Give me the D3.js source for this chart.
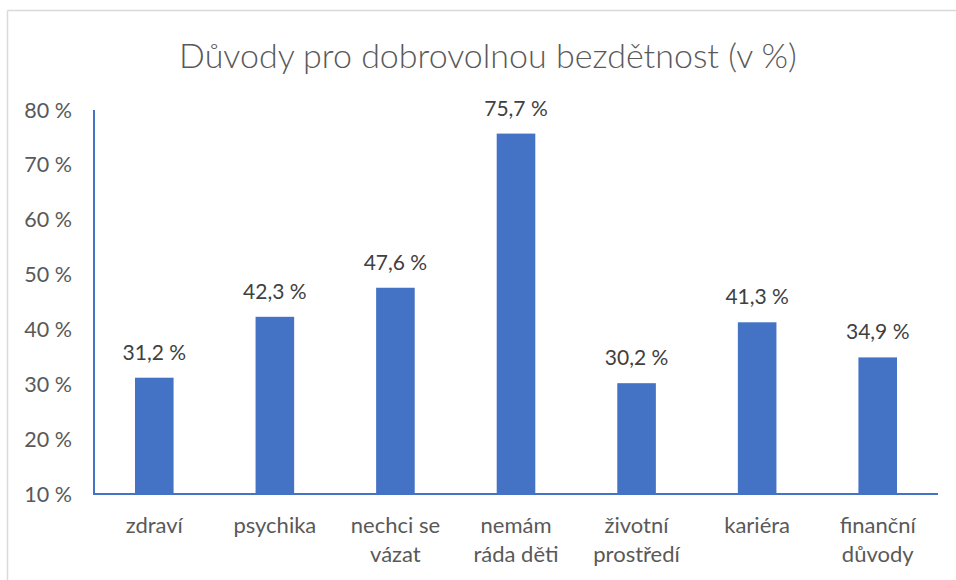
<!DOCTYPE html>
<html>
<head>
<meta charset="utf-8">
<script src="https://cdn.jsdelivr.net/npm/d3@7"></script>
<style>
  body { margin: 0; background: #fff; }
  text { font-family: Lato, "Open Sans", sans-serif; }
</style>
</head>
<body>
<div id="chart"></div>
<script>
const categories = [
  ['zdraví'],
  ['psychika'],
  ['nechci se', 'vázat'],
  ['nemám', 'ráda děti'],
  ['životní', 'prostředí'],
  ['kariéra'],
  ['finanční', 'důvody']
];
const values = [31.2, 42.3, 47.6, 75.7, 30.2, 41.3, 34.9];
const yTicks = [10, 20, 30, 40, 50, 60, 70, 80];

const width = 956, height = 580;
const margin = { top: 110, right: 18, bottom: 86, left: 94 };

const svg = d3.select('#chart').append('svg')
  .attr('width', width).attr('height', height);

svg.append('rect').attr('width', width).attr('height', height).attr('fill', '#fff');

// chart border (only top and left visible)
svg.append('line').attr('x1', 7.5).attr('x2', width).attr('y1', 10.5).attr('y2', 10.5)
  .attr('stroke', '#d9d9d9').attr('stroke-width', 1.5);
svg.append('line').attr('x1', 7.5).attr('x2', 7.5).attr('y1', 10.5).attr('y2', height)
  .attr('stroke', '#d9d9d9').attr('stroke-width', 1.5);

svg.append('text')
  .attr('x', 488).attr('y', 68)
  .attr('text-anchor', 'middle')
  .style('font-size', '34px')
  .style('font-weight', 300)
  .style('fill', '#595959')
  .text('Důvody pro dobrovolnou bezdětnost (v %)');

const x = d3.scaleBand()
  .domain(d3.range(categories.length))
  .range([margin.left, width - margin.right])
  .paddingInner(0.68)
  .paddingOuter(0.34);

const y = d3.scaleLinear()
  .domain([10, 80])
  .range([height - margin.bottom, margin.top]);

const fmt = v => d3.format('.1f')(v).replace('.', ',') + ' %';

// y tick labels
svg.append('g')
  .selectAll('text')
  .data(yTicks)
  .join('text')
  .attr('x', 72)
  .attr('y', d => y(d))
  .attr('dy', '0.35em')
  .attr('text-anchor', 'end')
  .style('font-size', '21.5px')
  .style('fill', '#595959')
  .text(d => d + ' %');

// bars
svg.append('g')
  .selectAll('rect')
  .data(values)
  .join('rect')
  .attr('x', (d, i) => x(i))
  .attr('y', d => y(d))
  .attr('width', x.bandwidth())
  .attr('height', d => y(10) - y(d))
  .attr('fill', '#4472c4');

// data labels
svg.append('g')
  .selectAll('text')
  .data(values)
  .join('text')
  .attr('x', (d, i) => x(i) + x.bandwidth() / 2)
  .attr('y', d => y(d) - 18)
  .attr('text-anchor', 'middle')
  .style('font-size', '21px')
  .style('fill', '#404040')
  .text(d => fmt(d));

// axes lines
svg.append('line')
  .attr('x1', margin.left).attr('x2', margin.left)
  .attr('y1', y(80)).attr('y2', y(10))
  .attr('stroke', '#4472c4').attr('stroke-width', 2);
svg.append('line')
  .attr('x1', margin.left - 1).attr('x2', width - margin.right)
  .attr('y1', y(10)).attr('y2', y(10))
  .attr('stroke', '#4472c4').attr('stroke-width', 2);

// category labels
const cat = svg.append('g')
  .selectAll('text')
  .data(categories)
  .join('text')
  .attr('text-anchor', 'middle')
  .style('font-size', '22px')
  .style('fill', '#595959');

cat.selectAll('tspan')
  .data((d, i) => d.map(line => ({ line, i })))
  .join('tspan')
  .attr('x', d => x(d.i) + x.bandwidth() / 2)
  .attr('y', (d, j) => 533 + j * 29)
  .text(d => d.line);
</script>
</body>
</html>
